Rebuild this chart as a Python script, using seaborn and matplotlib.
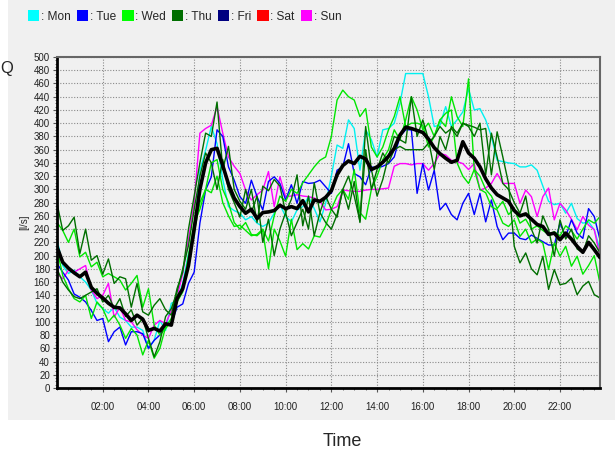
import numpy as np
import pandas as pd
import seaborn as sns
import matplotlib.pyplot as plt
from matplotlib.patches import Patch, Rectangle
from matplotlib.ticker import MultipleLocator, FixedLocator

# 15 minute samples over one day
hours = [i * 0.25 for i in range(96)]

mon = [225, 185, 173, 178, 168, 160, 148, 128, 120, 113, 122, 107, 102, 92, 92, 87, 60, 72, 102, 87, 128, 132, 158, 203,
       228, 329, 359, 395, 369, 315, 274, 268, 264, 254, 259, 249, 244, 249, 264, 277, 259, 251, 269, 274, 289, 271, 251, 279,
       320, 367, 362, 405, 392, 329, 390, 375, 349, 390, 392, 400, 430, 475, 475, 475, 475, 440, 395, 397, 425, 395, 405, 417,
       452, 420, 422, 405, 380, 344, 342, 340, 339, 334, 334, 337, 329, 305, 282, 277, 279, 264, 279, 256, 249, 251, 239, 209]
tue = [188, 175, 163, 142, 137, 130, 117, 102, 105, 70, 85, 92, 65, 85, 85, 82, 60, 72, 80, 95, 97, 122, 127, 158,
       175, 249, 299, 319, 390, 380, 334, 314, 289, 279, 314, 289, 269, 312, 319, 309, 284, 307, 279, 312, 309, 310, 314, 304,
       294, 329, 334, 369, 324, 319, 307, 334, 332, 335, 339, 349, 380, 390, 390, 294, 339, 299, 329, 269, 279, 262, 254, 279,
       294, 262, 294, 251, 284, 244, 224, 234, 234, 226, 224, 231, 226, 221, 216, 216, 249, 229, 254, 234, 226, 271, 259, 224]
wed_a = [210, 170, 150, 135, 130, 140, 105, 130, 120, 100, 110, 95, 75, 90, 80, 50, 72, 45, 60, 92, 105, 140, 150, 195,
         235, 280, 300, 340, 345, 300, 280, 250, 240, 250, 232, 230, 238, 180, 240, 222, 199, 255, 209, 218, 210, 230, 228, 245,
         270, 290, 300, 285, 330, 265, 255, 300, 320, 345, 360, 390, 375, 405, 440, 420, 390, 400, 380, 405, 395, 440, 410, 395,
         467, 330, 300, 295, 274, 269, 249, 244, 254, 229, 240, 219, 225, 219, 179, 219, 199, 214, 184, 199, 172, 185, 200, 158]
wed_b = [250, 238, 220, 240, 198, 205, 183, 190, 168, 173, 168, 163, 148, 158, 170, 122, 150, 95, 80, 90, 100, 130, 145, 200,
         250, 270, 300, 295, 320, 280, 260, 244, 246, 238, 230, 232, 240, 222, 260, 290, 282, 300, 294, 310, 322, 334, 344, 349,
         380, 435, 450, 440, 435, 410, 422, 364, 349, 364, 390, 410, 440, 395, 400, 400, 397, 364, 380, 405, 415, 420, 340, 320,
         309, 330, 320, 300, 290, 271, 282, 262, 271, 249, 255, 240, 245, 238, 232, 236, 230, 245, 238, 225, 240, 254, 249, 259]
thu_a = [279, 238, 245, 258, 203, 240, 193, 200, 172, 195, 158, 168, 165, 122, 158, 115, 110, 125, 135, 118, 110, 150, 175, 240,
         290, 340, 385, 380, 432, 330, 365, 300, 282, 270, 300, 250, 305, 298, 315, 305, 265, 285, 322, 245, 290, 230, 265, 290,
         270, 258, 300, 270, 312, 250, 395, 330, 290, 315, 350, 380, 375, 370, 440, 380, 405, 375, 330, 380, 360, 395, 385, 400,
         395, 380, 400, 322, 385, 349, 309, 300, 280, 264, 290, 240, 219, 260, 240, 199, 254, 225, 240, 210, 204, 230, 219, 204]
thu_b = [180, 160, 148, 138, 135, 140, 145, 150, 130, 140, 120, 135, 108, 118, 95, 105, 75, 47, 70, 108, 120, 145, 180, 215,
         270, 320, 355, 340, 300, 345, 300, 280, 258, 300, 265, 290, 220, 255, 200, 240, 265, 230, 250, 270, 240, 310, 265, 250,
         240, 262, 300, 320, 290, 252, 360, 300, 330, 355, 340, 360, 365, 360, 360, 360, 360, 370, 380, 395, 385, 392, 380, 400,
         397, 394, 390, 392, 322, 387, 349, 309, 214, 189, 204, 180, 171, 199, 149, 179, 156, 158, 166, 141, 154, 161, 141, 136]
sun = [173, 165, 178, 175, 180, 185, 148, 135, 140, 158, 107, 122, 102, 100, 88, 80, 75, 95, 102, 97, 117, 137, 173, 225,
       280, 385, 392, 397, 425, 385, 349, 335, 324, 299, 284, 292, 299, 327, 274, 319, 289, 290, 292, 290, 289, 287, 282, 269,
       270, 274, 299, 298, 297, 297, 299, 300, 300, 301, 302, 335, 339, 339, 337, 339, 339, 329, 339, 354, 352, 344, 342, 339,
       330, 339, 299, 302, 309, 324, 309, 309, 309, 279, 299, 289, 259, 289, 302, 254, 279, 269, 255, 239, 259, 246, 239, 199]
mean = [213, 190, 181, 174, 168, 175, 152, 143, 136, 128, 122, 121, 112, 102, 110, 104, 87, 90, 86, 97, 95, 135, 150, 185,
        240, 300, 340, 360, 362, 336, 308, 287, 274, 264, 270, 256, 265, 266, 268, 276, 271, 274, 271, 283, 266, 284, 282, 288,
        298, 322, 336, 343, 339, 350, 346, 330, 334, 341, 350, 362, 382, 394, 392, 389, 386, 376, 363, 354, 347, 341, 344, 372,
        355, 347, 334, 316, 302, 292, 287, 282, 268, 260, 263, 255, 247, 244, 232, 234, 224, 234, 225, 214, 205, 220, 209, 197]

days = ["Mon", "Tue", "Wed", "Thu", "Fri", "Sat", "Sun"]
day_colors = ["#00ffff", "#0000ff", "#00ff00", "#006e00", "#000080", "#ff0000", "#ff00ff"]

sns.set_style("ticks")
plt.rcParams["font.family"] = ["Liberation Sans", "DejaVu Sans"]

fig = plt.figure(figsize=(6.15, 4.51), dpi=100, facecolor="white")
fig.add_artist(Rectangle((8 / 615, 1 - 420 / 451), 1, 420 / 451, transform=fig.transFigure,
                         facecolor="#f0f0f0", edgecolor="none", zorder=-10))
ax = fig.add_axes([57 / 615, 1 - 388 / 451, 543 / 615, 331 / 451])
ax.set_facecolor("#f0f0f0")

series = [(mon, "#00f0f0"), (sun, "#ff00ff"), (tue, "#0000ff"), (wed_a, "#00e600"),
          (wed_b, "#00e600"), (thu_a, "#006e00"), (thu_b, "#006e00")]
for vals, col in series:
    df = pd.DataFrame({"t": hours, "q": vals})
    sns.lineplot(data=df, x="t", y="q", color=col, lw=1.0, ax=ax)
df_mean = pd.DataFrame({"t": hours, "q": mean})
sns.lineplot(data=df_mean, x="t", y="q", color="black", lw=2.6, ax=ax, zorder=5)

ax.set_xlim(0, 23.75)
ax.set_ylim(0, 500)
ax.xaxis.set_major_locator(FixedLocator(list(range(2, 24, 2))))
ax.set_xticklabels(["%02d:00" % h for h in range(2, 24, 2)])
ax.xaxis.set_minor_locator(MultipleLocator(0.5))
ax.yaxis.set_major_locator(MultipleLocator(20))
ax.yaxis.set_minor_locator(MultipleLocator(5))
ax.tick_params(axis="both", which="major", labelsize=7, length=3, width=0.8,
               color="#555555", labelcolor="#222222", pad=2)
ax.tick_params(axis="both", which="minor", length=1.5, width=0.6, color="#555555")
ax.tick_params(axis="x", pad=7)
ax.grid(which="major", color="#8a8a8a", linestyle=(0, (1, 1.5)), lw=0.8)
ax.set_xlabel("")
ax.set_ylabel("[l/s]", fontsize=7, labelpad=3)

for side in ["left", "bottom"]:
    ax.spines[side].set_color("black")
    ax.spines[side].set_linewidth(2)
for side in ["top", "right"]:
    ax.spines[side].set_visible(True)
    ax.spines[side].set_color("#666666")
    ax.spines[side].set_linewidth(1.5)

handles = [Patch(facecolor=c, edgecolor="none") for c in day_colors]
fig.legend(handles, [": " + d for d in days], loc="center left",
           bbox_to_anchor=(28 / 615, 1 - 16.5 / 451), ncol=7, frameon=False,
           fontsize=8.6, handlelength=0.95, handleheight=0.95, handletextpad=0.15,
           columnspacing=0.5, borderpad=0, borderaxespad=0)

fig.text(0 / 615, 1 - 68 / 451, "Q", fontsize=12, va="center", ha="left")
fig.text(342 / 615, 1 - 442 / 451, "Time", fontsize=13, va="center", ha="center")

fig.savefig("out.png", dpi=100)
